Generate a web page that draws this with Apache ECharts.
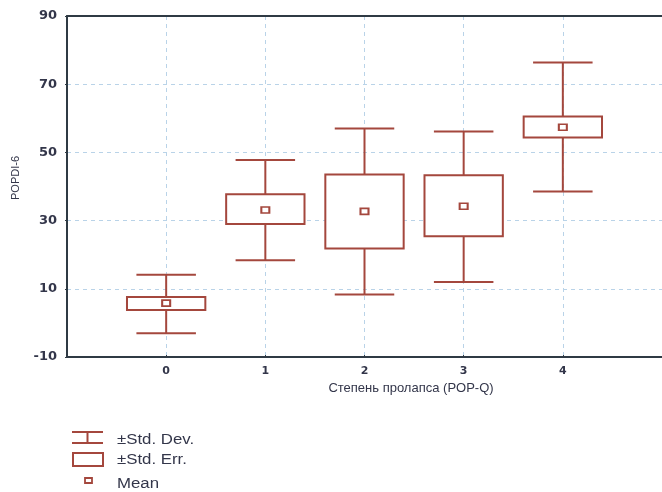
<!DOCTYPE html>
<html>
<head>
<meta charset="utf-8">
<script src="https://cdn.jsdelivr.net/npm/echarts@6/dist/echarts.min.js"></script>
<style>html,body{margin:0;padding:0;background:#fff}#c{width:662px;height:492px}</style>
</head>
<body>
<div id="c"></div>
<script>
const categories = [0, 1, 2, 3, 4];
const means  = [5.8, 33.1, 32.7, 34.2, 57.4];
const seLow  = [3.8, 29.0, 21.8, 25.4, 54.4];
const seHigh = [7.6, 37.7, 43.5, 43.3, 60.5];
const sdLow  = [-3.0, 18.4, 8.3, 12.0, 38.5];
const sdHigh = [14.1, 47.8, 57.0, 56.1, 76.4];
const yTicks = [-10, 10, 30, 50, 70, 90];
const xTicks = [0, 1, 2, 3, 4];
const legendNames = ['±Std. Dev.', '±Std. Err.', 'Mean'];
const xName = 'Степень пролапса (POP-Q)';
const yName = 'POPDI-6';

const RED = '#a4473d';
const AXIS = '#2f3a44';
const GRID = '#b9d3e8';
const TXT = '#33364a';

const chart = echarts.init(document.getElementById('c'));

const whiskerData = categories.map((c, i) => [c, sdLow[i], sdHigh[i]]);
const boxData = categories.map((c, i) => [c, seLow[i], seHigh[i]]);
const meanData = categories.map((c, i) => [c, means[i]]);

function renderWhisker(params, api) {
  const x = api.value(0);
  const lo = api.coord([x, api.value(1)]);
  const hi = api.coord([x, api.value(2)]);
  const half = api.size([1, 0])[0] * 0.3;
  const st = { stroke: RED, lineWidth: 2 };
  return {
    type: 'group',
    children: [
      { type: 'line', shape: { x1: lo[0], y1: lo[1], x2: hi[0], y2: hi[1] }, style: st },
      { type: 'line', shape: { x1: hi[0] - half, y1: hi[1], x2: hi[0] + half, y2: hi[1] }, style: st },
      { type: 'line', shape: { x1: lo[0] - half, y1: lo[1], x2: lo[0] + half, y2: lo[1] }, style: st }
    ]
  };
}
function renderBox(params, api) {
  const x = api.value(0);
  const lo = api.coord([x, api.value(1)]);
  const hi = api.coord([x, api.value(2)]);
  const half = api.size([1, 0])[0] * 0.395;
  return {
    type: 'rect',
    shape: { x: lo[0] - half, y: hi[1], width: half * 2, height: lo[1] - hi[1] },
    style: { fill: '#fff', stroke: RED, lineWidth: 2 }
  };
}

chart.setOption({
  animation: false,
  grid: { left: 67, top: 16, width: 596, height: 341, containLabel: false },
  xAxis: [{
    type: 'value', min: -1, max: 5, interval: 1,
    axisLine: { show: true, onZero: false, lineStyle: { color: AXIS, width: 2 } },
    axisTick: { show: true, length: 2, inside: true, customValues: xTicks, lineStyle: { color: AXIS } },
    axisLabel: { customValues: xTicks, margin: 9, color: TXT, fontFamily: 'DejaVu Sans', fontWeight: 'bold', fontSize: 11 },
    splitLine: { show: true, lineStyle: { color: GRID, type: [4, 4], width: 1 } }
  }, {
    type: 'value', position: 'top', min: -1, max: 5, interval: 1,
    axisLine: { show: true, onZero: false, lineStyle: { color: AXIS, width: 2 } },
    axisTick: { show: false }, axisLabel: { show: false }, splitLine: { show: false }
  }],
  yAxis: [{
    type: 'value', min: -10, max: 90,
    axisLine: { show: true, onZero: false, lineStyle: { color: AXIS, width: 2 } },
    axisTick: { show: true, length: 2, customValues: yTicks, lineStyle: { color: AXIS } },
    axisLabel: { customValues: yTicks, margin: 10, color: TXT, fontFamily: 'DejaVu Sans', fontWeight: 'bold', fontSize: 13 },
    splitLine: { show: true, lineStyle: { color: GRID, type: [4, 4], width: 1 } }
  }, {
    type: 'value', position: 'right', min: -10, max: 90,
    axisLine: { show: true, onZero: false, lineStyle: { color: '#f3d6d2', width: 1 } },
    axisTick: { show: false }, axisLabel: { show: false }, splitLine: { show: false }
  }],
  series: [
    { name: legendNames[0], type: 'custom', renderItem: renderWhisker, data: whiskerData, z: 2, encode: { x: 0, y: [1, 2] } },
    { name: legendNames[1], type: 'custom', renderItem: renderBox, data: boxData, z: 3, encode: { x: 0, y: [1, 2] } },
    { name: legendNames[2], type: 'scatter', data: meanData, symbol: 'rect', symbolSize: [8, 6], z: 4,
      itemStyle: { color: '#fff', borderColor: RED, borderWidth: 1.8, opacity: 1 } }
  ],
  graphic: [
    { type: 'text', x: 16, y: 178, rotation: Math.PI / 2,
      style: { text: yName, font: '11px "Liberation Sans"', fill: TXT, textAlign: 'center', textVerticalAlign: 'middle' } },
    { type: 'text', x: 411, y: 388,
      style: { text: xName, font: '13px "Liberation Sans"', fill: TXT, textAlign: 'center', textVerticalAlign: 'middle' } },
    // legend icons
    { type: 'line', shape: { x1: 72, y1: 432, x2: 103, y2: 432 }, style: { stroke: RED, lineWidth: 2 } },
    { type: 'line', shape: { x1: 72, y1: 443, x2: 103, y2: 443 }, style: { stroke: RED, lineWidth: 2 } },
    { type: 'line', shape: { x1: 87.5, y1: 432, x2: 87.5, y2: 443 }, style: { stroke: RED, lineWidth: 2 } },
    { type: 'rect', shape: { x: 73, y: 453, width: 30, height: 13 }, style: { fill: '#fff', stroke: RED, lineWidth: 2 } },
    { type: 'rect', shape: { x: 85, y: 478, width: 7, height: 5 }, style: { fill: '#fff', stroke: RED, lineWidth: 1.8 } },
    // legend texts
    { type: 'text', x: 117, y: 440, scaleX: 1.2,
      style: { text: legendNames[0], font: '14px "Liberation Sans"', fill: TXT, textVerticalAlign: 'middle' } },
    { type: 'text', x: 117, y: 460, scaleX: 1.2,
      style: { text: legendNames[1], font: '14px "Liberation Sans"', fill: TXT, textVerticalAlign: 'middle' } },
    { type: 'text', x: 117, y: 484, scaleX: 1.2,
      style: { text: legendNames[2], font: '14px "Liberation Sans"', fill: TXT, textVerticalAlign: 'middle' } }
  ]
});
</script>
</body>
</html>
